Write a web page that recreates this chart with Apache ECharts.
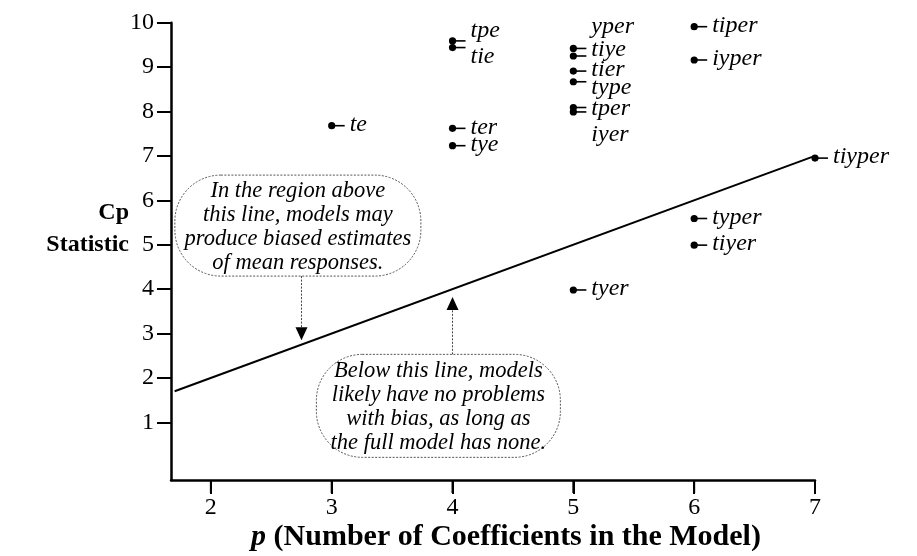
<!DOCTYPE html>
<html>
<head>
<meta charset="utf-8">
<script src="https://cdn.jsdelivr.net/npm/echarts@6/dist/echarts.min.js"></script>
<style>
html,body{margin:0;padding:0;background:#fff}
#chart{width:917px;height:556px}
</style>
</head>
<body>
<div id="chart"></div>
<script>
// models (letters = predictors in the model), p and Cp
const models   = ['te','tpe','tie','ter','tye','yper','tiye','tier','type','tper','iyer','tyer','tiper','iyper','typer','tiyer','tiyper'];
const pValues  = [3, 4, 4, 4, 4, 5, 5, 5, 5, 5, 5, 5, 6, 6, 6, 6, 7];
const cpValues = [7.68, 9.59, 9.44, 7.62, 7.23, 9.42, 9.25, 8.91, 8.67, 8.09, 7.99, 3.98, 9.91, 9.16, 5.59, 4.99, 6.95];
// vertical nudge of each label (px) so crowded ones do not overlap
const labelShift = [0, -9, 10, 0, 0, -21, -5, 0, 7, 2, 24, 0, 0, 0, 0, 0, 0];

// Cp = p reference line
const refP  = [1.7, 7];
const refCp = [1.7, 7];

const xTicks = [2, 3, 4, 5, 6, 7];
const yTicks = [1, 2, 3, 4, 5, 6, 7, 8, 9, 10];
const X_MIN = 1.67, X_MAX = 7, Y_MIN = -0.3, Y_MAX = 10;

const noteAbove = ['In the region above', 'this line, models may', 'produce biased estimates', 'of mean responses.'];
const noteBelow = ['Below this line, models', 'likely have no problems', 'with bias, as long as', 'the full model has none.'];

const SERIF = '"Liberation Serif", "Times New Roman", serif';

const myChart = echarts.init(document.getElementById('chart'));

myChart.setOption({
    backgroundColor: '#ffffff',
    animation: false,
    grid: {left: 171, right: 102, top: 22.7, bottom: 76},
    xAxis: {
        type: 'value', min: X_MIN, max: X_MAX,
        axisLine: {onZero: false, lineStyle: {color: '#000', width: 2.5}},
        axisTick: {show: true, length: 14, lineStyle: {color: '#000', width: 2}, customValues: xTicks},
        axisLabel: {color: '#000', fontFamily: SERIF, fontSize: 24, margin: 16, customValues: xTicks},
        splitLine: {show: false}
    },
    yAxis: {
        type: 'value', min: Y_MIN, max: Y_MAX,
        axisLine: {onZero: false, lineStyle: {color: '#000', width: 2.5}},
        axisTick: {length: 14, lineStyle: {color: '#000', width: 2}, customValues: yTicks},
        axisLabel: {color: '#000', fontFamily: SERIF, fontSize: 24, margin: 17, customValues: yTicks},
        splitLine: {show: false}
    },
    graphic: [
        {type: 'text', x: 129, y: 229, z: 11,
         style: {text: 'Cp\nStatistic', fill: '#000', font: 'bold 24px ' + SERIF, lineHeight: 32, align: 'right', verticalAlign: 'middle'}},
        {type: 'text', x: 506, y: 537, z: 11,
         style: {text: '{pi|p} (Number of Coefficients in the Model)', fill: '#000', font: 'bold 30px ' + SERIF, align: 'center', verticalAlign: 'middle',
                 rich: {pi: {font: 'italic bold 30px ' + SERIF, fill: '#000'}}}}
    ],
    series: [
        {
            type: 'line',
            data: refP.map((p, i) => [p, refCp[i]]),
            symbol: 'none',
            lineStyle: {color: '#000', width: 2},
            z: 1
        },
        {
            type: 'custom',
            data: pValues.map((p, i) => [p, cpValues[i]]),
            z: 3,
            renderItem: (params, api) => {
                const pt = api.coord([api.value(0), api.value(1)]);
                const i = params.dataIndex;
                return {
                    type: 'group',
                    children: [
                        {type: 'line', shape: {x1: pt[0], y1: pt[1], x2: pt[0] + 13, y2: pt[1]}, style: {stroke: '#000', lineWidth: 1.6}},
                        {type: 'circle', shape: {cx: pt[0], cy: pt[1], r: 3.6}, style: {fill: '#000'}},
                        {type: 'text', x: pt[0] + 18, y: pt[1] + labelShift[i] - 1,
                         style: {text: models[i], fill: '#000', font: 'italic 24px ' + SERIF, align: 'left', verticalAlign: 'middle'}}
                    ]
                };
            }
        }
    ]
});

// callout boxes + arrows, anchored in data coords, added straight to the zrender layer
function drawNotes() {
    const G = echarts.graphic, zr = myChart.getZr();
    const toPx = v => myChart.convertToPixel({gridIndex: 0}, v);
    const c1 = toPx([2.72, 5.43]), c2 = toPx([3.883, 1.37]);
    const tip1 = toPx([2.75, 2.85]), tip2 = toPx([4.0, 3.82]);
    const w1 = 246, h1 = 101, w2 = 244, h2 = 103;
    const boxStyle = () => ({fill: '#fff', stroke: '#555', lineWidth: 1, lineDash: [2, 1.5]});
    const stemStyle = () => ({stroke: '#444', lineWidth: 1, lineDash: [2, 1.5]});
    const txt = t => ({text: t, fill: '#000', font: 'italic 22.5px ' + SERIF, lineHeight: 24, align: 'center', verticalAlign: 'middle'});

    zr.add(new G.Rect({shape: {x: c1[0] - w1 / 2, y: c1[1] - h1 / 2, width: w1, height: h1, r: 46}, style: boxStyle(), z: 10}));
    zr.add(new G.Text({x: c1[0], y: c1[1] + 1, style: txt(noteAbove.join('\n')), z: 11}));
    zr.add(new G.Line({shape: {x1: tip1[0], y1: c1[1] + h1 / 2, x2: tip1[0], y2: tip1[1] - 10}, style: stemStyle(), z: 10}));
    zr.add(new G.Polygon({shape: {points: [[tip1[0], tip1[1]], [tip1[0] - 6, tip1[1] - 13], [tip1[0] + 6, tip1[1] - 13]]}, style: {fill: '#000'}, z: 10}));

    zr.add(new G.Rect({shape: {x: c2[0] - w2 / 2, y: c2[1] - h2 / 2, width: w2, height: h2, r: 46}, style: boxStyle(), z: 10}));
    zr.add(new G.Text({x: c2[0], y: c2[1] + 1, style: txt(noteBelow.join('\n')), z: 11}));
    zr.add(new G.Line({shape: {x1: tip2[0], y1: c2[1] - h2 / 2, x2: tip2[0], y2: tip2[1] + 10}, style: stemStyle(), z: 10}));
    zr.add(new G.Polygon({shape: {points: [[tip2[0], tip2[1]], [tip2[0] - 6, tip2[1] + 13], [tip2[0] + 6, tip2[1] + 13]]}, style: {fill: '#000'}, z: 10}));

    // x-axis ticks (the axis's own customValues ticks do not show with this setup), placed through the axis scale
    xTicks.forEach(t => {
        const p = toPx([t, Y_MIN]);
        zr.add(new G.Line({shape: {x1: p[0], y1: p[1], x2: p[0], y2: p[1] + 13}, style: {stroke: '#000', lineWidth: 2}, z: 12}));
    });
}

drawNotes();
window.addEventListener('resize', () => myChart.resize());
</script>
</body>
</html>
